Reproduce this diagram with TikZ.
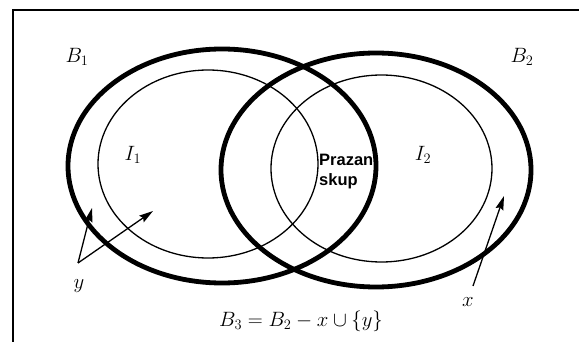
\documentclass[tikz,border=0pt]{standalone}
\usepackage{fontspec}
\setsansfont{Liberation Sans}
\usepackage{tikz}
\usetikzlibrary{arrows.meta, positioning}
\tikzset{
  bigset/.style={draw, line width=4.8pt},
  inset/.style={draw, line width=1.3pt},
  frame/.style={draw, line width=2pt},
  lbl/.style={inner sep=0pt, font=\fontsize{22}{26}\selectfont},
  note/.style={inner sep=0pt, align=left, font=\sffamily\bfseries\fontsize{16.5}{20}\selectfont},
  pointer/.style={draw, line width=1.3pt, -{Stealth[length=14pt,width=8pt,inset=2pt]}},
}

\begin{document}
\begin{tikzpicture}[x=1pt, y=-1pt]
  \useasboundingbox (0,0) rectangle (579,342);
  % frame
  \draw[frame] (13,342) -- (13,10) -- (579,10);

  % sets B1, B2 and their inner parts I1, I2
  \draw[bigset] (222,166) ellipse [x radius=154pt, y radius=117pt];
  \draw[bigset] (376,170) ellipse [x radius=155pt, y radius=117pt];
  \draw[inset] (208,164) ellipse [x radius=110pt, y radius=94pt];
  \draw[inset] (381.5,168.5) ellipse [x radius=110.5pt, y radius=93.5pt];

  \node[lbl] (B1) at (77,57) {$B_1$};
  \node[lbl] (B2) at (522,57) {$B_2$};
  \node[lbl] (I1) at (133,155) {$I_1$};
  \node[lbl] (I2) at (423,155) {$I_2$};
  \node[note, anchor=west] (empty) at (319,172) {Prazan\\skup};

  % elements y and x
  \node[lbl] (y) at (79,286) {$y$};
  \node[lbl] (x) at (468,302) {$x$};
  \coordinate (yfoot) at (78,263);
  \coordinate (ytip1) at (92,208);
  \coordinate (ytip2) at (153,211);
  \coordinate (xfoot) at (473,286);
  \coordinate (xtip) at (504,196);
  \draw[pointer] (yfoot) -- (ytip1);
  \draw[pointer] (yfoot) -- (ytip2);
  \draw[pointer] (xfoot) -- (xtip);

  \node[lbl, font=\fontsize{20}{24}\selectfont] (rule) at (301,321) {$B_3 = B_2 - x \cup \{y\}$};
\end{tikzpicture}
\end{document}
